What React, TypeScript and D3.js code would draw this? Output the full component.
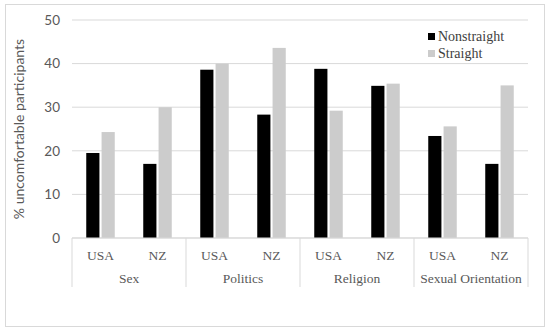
import React from 'react';
import * as d3 from 'd3';

const groups = ['Sex', 'Politics', 'Religion', 'Sexual Orientation'];
const countries = ['USA', 'NZ'];
const seriesNames = ['Nonstraight', 'Straight'];
const seriesColors = ['#000000', '#cccccc'];
// values per group, in order USA, NZ
const nonstraight = [19.5, 17.0, 38.6, 28.3, 38.8, 34.9, 23.4, 17.0];
const straight = [24.3, 30.0, 40.0, 43.6, 29.2, 35.4, 25.6, 35.0];
const yTicks = [0, 10, 20, 30, 40, 50];

const W = 550;
const H = 333;
const margin = { top: 20, right: 22, bottom: 95, left: 72 };
const serif = 'Liberation Serif, Times New Roman, serif';
const sans = 'Lato, Open Sans, sans-serif';

const App: React.FC = () => {
  const plotW = W - margin.left - margin.right;
  const plotH = H - margin.top - margin.bottom;

  const cats = groups.flatMap(g => countries.map(c => `${g}|${c}`));
  const x = d3.scaleBand<string>().domain(cats).range([0, plotW]);
  const xGroup = d3.scaleBand<string>().domain(groups).range([0, plotW]);
  const y = d3.scaleLinear().domain([0, 50]).range([plotH, 0]);
  const inner = d3
    .scaleBand<string>()
    .domain(seriesNames)
    .range([x.bandwidth() * 0.25, x.bandwidth() * 0.75])
    .paddingInner(0.14);

  const series = [nonstraight, straight];

  return (
    <svg width={W} height={H} style={{ position: 'absolute', left: 0, top: 0 }}>
      <rect x={5.5} y={4.5} width={539} height={322} fill="#fff" stroke="#d9d9d9" />
      <g transform={`translate(${margin.left},${margin.top})`}>
        {yTicks.map(t => (
          <g key={t} transform={`translate(0,${y(t)})`}>
            <line x1={0} x2={plotW} stroke="#d9d9d9" />
            <text
              x={-12}
              dy="0.35em"
              textAnchor="end"
              fontFamily={sans}
              fontSize={13.5}
              fill="#595959"
            >
              {t}
            </text>
          </g>
        ))}
        {series.map((vals, si) =>
          cats.map((c, i) => (
            <rect
              key={`${si}-${c}`}
              x={(x(c) ?? 0) + (inner(seriesNames[si]) ?? 0)}
              y={y(vals[i])}
              width={inner.bandwidth()}
              height={plotH - y(vals[i])}
              fill={seriesColors[si]}
            />
          ))
        )}
        {/* category axis */}
        <line x1={0} x2={plotW} y1={plotH} y2={plotH} stroke="#d9d9d9" />
        {groups.map(g => (
          <line
            key={`sep-${g}`}
            x1={xGroup(g)}
            x2={xGroup(g)}
            y1={plotH}
            y2={plotH + 49}
            stroke="#d9d9d9"
          />
        ))}
        <line x1={plotW} x2={plotW} y1={plotH} y2={plotH + 49} stroke="#d9d9d9" />
        {cats.map(c => (
          <text
            key={`lab-${c}`}
            x={(x(c) ?? 0) + x.bandwidth() / 2}
            y={plotH + 22}
            textAnchor="middle"
            fontFamily={serif}
            fontSize={13.5}
            fill="#595959"
          >
            {c.split('|')[1]}
          </text>
        ))}
        {groups.map(g => (
          <text
            key={`glab-${g}`}
            x={(xGroup(g) ?? 0) + xGroup.bandwidth() / 2}
            y={plotH + 45}
            textAnchor="middle"
            fontFamily={serif}
            fontSize={13.5}
            fill="#595959"
          >
            {g}
          </text>
        ))}
      </g>
      <text
        transform={`translate(24,${margin.top + plotH / 2}) rotate(-90)`}
        textAnchor="middle"
        fontFamily={sans}
        fontSize={14}
        fill="#595959"
      >
        % uncomfortable participants
      </text>
      {seriesNames.map((s, i) => (
        <g key={s} transform={`translate(428,${33 + i * 17})`}>
          <rect width={7} height={7} fill={seriesColors[i]} />
          <text x={10} y={7.5} fontFamily={serif} fontSize={14} fill="#404040">
            {s}
          </text>
        </g>
      ))}
    </svg>
  );
};

export default App;
